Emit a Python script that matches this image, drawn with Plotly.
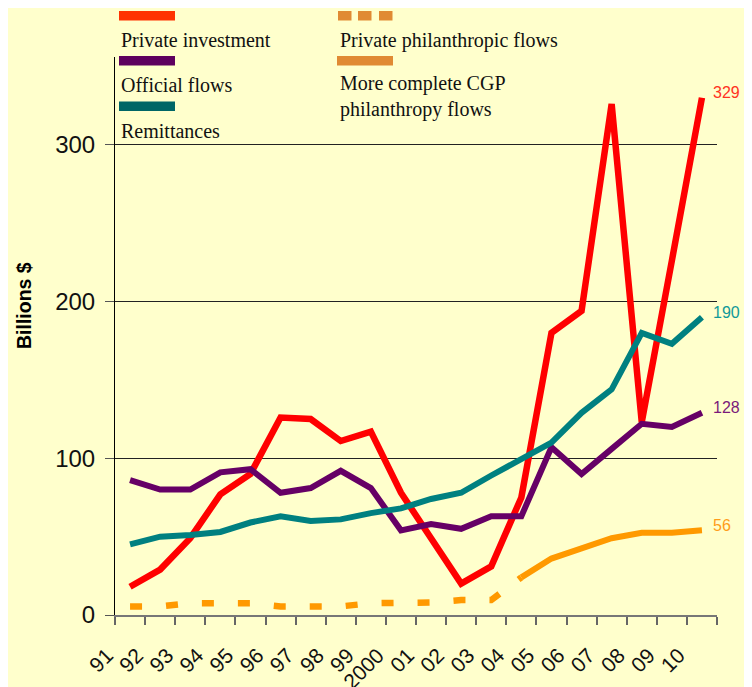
import plotly.graph_objects as go

years = ["91", "92", "93", "94", "95", "96", "97", "98", "99", "2000",
         "01", "02", "03", "04", "05", "06", "07", "08", "09", "10"]

private_investment = [18, 29, 49, 77, 90, 126, 125, 111, 117, 78,
                      49, 20, 31, 75, 180, 194, 326, 123, 226, 330]
official_flows = [86, 80, 80, 91, 93, 78, 81, 92, 81, 54,
                  58, 55, 63, 63, 107, 90, 106, 122, 120, 129]
remittances = [45, 50, 51, 53, 59, 63, 60, 61, 65, 68,
               74, 78, 89, 100, 110, 129, 144, 180, 173, 190]
phil_years = years[:14]
private_philanthropic = [5.5, 5.5, 7.5, 7.5, 7.5, 5.5, 5.5, 5.5, 7.5, 7.5,
                         8, 9.5, 9.5, 24]
cgp_years = years[13:]
cgp_philanthropy = [24, 36, 42.5, 49, 52.5, 52.5, 54]

end_labels = ["329", "190", "128", "56"]
end_values = [330, 190, 129, 54]
end_colors = ["#FF3322", "#119999", "#7A1A7A", "#FF9C1A"]

legend_names = ["Private investment", "Official flows", "Remittances",
                "Private philanthropic flows", "More complete CGP<br>philanthropy flows"]

# page body margin offset (figure starts 8px in from the window corner)
OX, OY = 8, 8
W, H = 752 - OX, 687 - OY
L, R, T, B = 115 - OX, 35, 57 - OY, 72
PW, PH = W - L - R, H - T - B


def px(x):
    return (x - OX - L) / PW


def py(y):
    return (H - B - (y - OY)) / PH


BG = "#FFFFCC"
fig = go.Figure()

fig.add_trace(go.Scatter(x=years, y=private_investment, mode="lines",
                         line=dict(color="#FF0000", width=6.5), name=legend_names[0]))
fig.add_trace(go.Scatter(x=years, y=official_flows, mode="lines",
                         line=dict(color="#660066", width=6), name=legend_names[1]))
fig.add_trace(go.Scatter(x=years, y=remittances, mode="lines",
                         line=dict(color="#008080", width=6), name=legend_names[2]))
fig.add_trace(go.Scatter(x=phil_years, y=private_philanthropic, mode="lines",
                         line=dict(color="#FF9900", width=6.5, dash="12px,24px"),
                         name=legend_names[3]))
fig.add_trace(go.Scatter(x=cgp_years, y=cgp_philanthropy, mode="lines",
                         line=dict(color="#FF9900", width=6), name="More complete CGP philanthropy flows"))

annotations = []
last_index = len(years) - 1
for lab, val, col in zip(end_labels, end_values, end_colors):
    annotations.append(dict(x=last_index, y=val, xref="x", yref="y", text=lab,
                            showarrow=False, xanchor="left", yanchor="middle",
                            xshift=9, yshift=5,
                            font=dict(family="Liberation Sans Narrow, Arial Narrow, sans-serif",
                                      size=16, color=col)))

serif = "Liberation Serif, Times New Roman, serif"
legend_text = [(119, 40, legend_names[0]), (119, 85, legend_names[1]),
               (119, 131, legend_names[2]), (338, 40, legend_names[3]),
               (338, 96, legend_names[4])]
for x0, yc, txt in legend_text:
    annotations.append(dict(x=px(x0), y=py(yc), xref="paper", yref="paper", text=txt,
                            showarrow=False, xanchor="left", yanchor="middle", align="left",
                            font=dict(family=serif, size=20, color="#111111")))

annotations.append(dict(x=px(24), y=py(306), xref="paper", yref="paper",
                        text="<b>Billions $</b>", textangle=-90, showarrow=False,
                        xanchor="center", yanchor="middle",
                        font=dict(family="Liberation Sans, Arial, sans-serif", size=19.5, color="#000000")))

shapes = []
bars = [(119, 175, 11, 20.5, "#FF3300"), (119, 175, 56, 65.5, "#5E005E"),
        (119, 175, 101.5, 111, "#006666"), (337, 393, 56, 65.5, "#E08A33"),
        (338, 351.5, 11, 20.5, "#E08A33"), (358, 371.5, 11, 20.5, "#E08A33"),
        (379, 392.5, 11, 20.5, "#E08A33")]
for x0, x1, y0, y1, c in bars:
    shapes.append(dict(type="rect", xref="paper", yref="paper",
                       x0=px(x0), x1=px(x1), y0=py(y1), y1=py(y0),
                       fillcolor=c, line=dict(width=0)))

fig.update_layout(
    width=W, height=H,
    margin=dict(l=L, r=R, t=T, b=B, autoexpand=False),
    paper_bgcolor=BG, plot_bgcolor=BG,
    showlegend=False,
    annotations=annotations,
    shapes=shapes,
    hovermode=False,
    xaxis=dict(type="category", range=[-0.5, len(years) - 0.5], tickson="boundaries",
               ticks="outside", ticklen=8,
               tickcolor="#666666", tickwidth=1.5, showline=True, linecolor="#777777",
               linewidth=2, showgrid=False, tickangle=-45, ticklabelstandoff=18,
               ticklabelshift=-23, automargin=False,
               tickfont=dict(family="Liberation Sans, Arial, sans-serif", size=21, color="#111111")),
    yaxis=dict(range=[0, 356], tickvals=[0, 100, 200, 300], ticks="outside", ticklen=9,
               tickcolor="#555555", showline=True, linecolor="#000000", linewidth=1,
               showgrid=True, gridcolor="#222222", gridwidth=1, zeroline=False, automargin=False,
               ticklabelstandoff=5,
               tickfont=dict(family="Liberation Sans, Arial, sans-serif", size=24, color="#111111")),
)

fig.write_html("out.html")
